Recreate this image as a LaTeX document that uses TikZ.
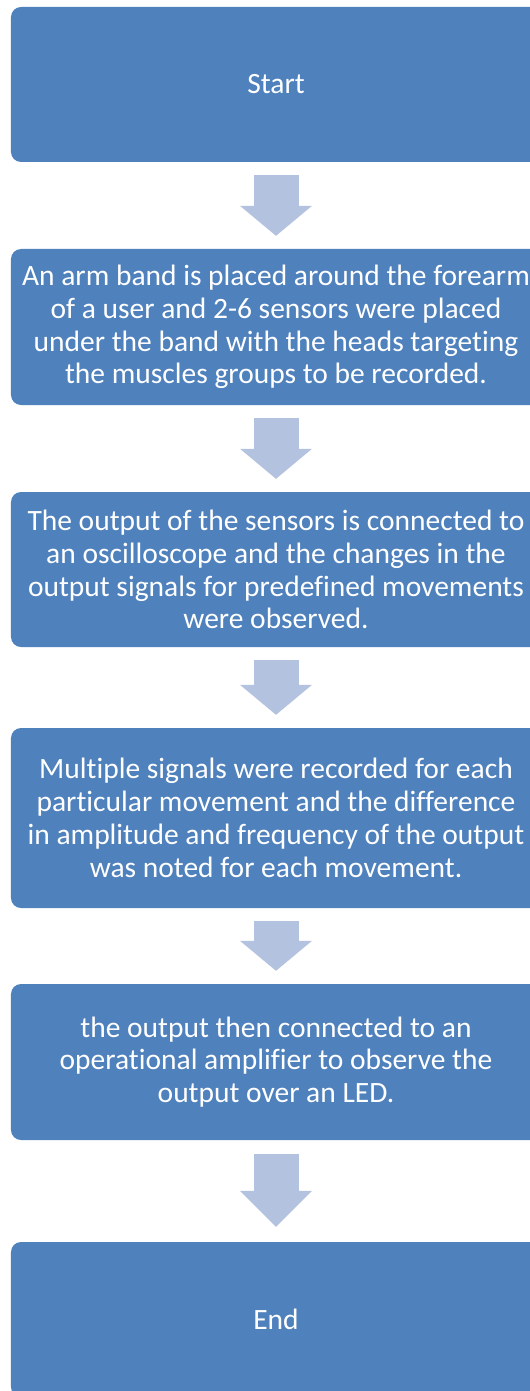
\documentclass[tikz,border=0pt]{standalone}
\usepackage{fontspec}
\setmainfont{Carlito}[Ligatures=NoCommon]
\usetikzlibrary{arrows.meta}
\definecolor{boxblue}{HTML}{4F81BD}
\definecolor{arrowblue}{HTML}{B3C2DE}

\begin{document}
\begin{tikzpicture}[x=1bp, y=-1bp,
  stepbox/.style={rectangle, rounded corners=10bp, fill=boxblue, text=white,
    minimum width=530bp, minimum height=155bp, align=center, inner sep=4bp,
    font=\fontsize{29.5bp}{32.8bp}\selectfont},
  flowarrow/.style={draw=arrowblue, line width=45bp, shorten <=13bp, shorten >=13bp,
    -{Triangle[length=30bp, width=72bp, line width=0pt]}}]
  \useasboundingbox (0,0) rectangle (530,1391);

  % Drawing the steps
  \node [stepbox] (start) at (276,84.5) {Start};
  \node [stepbox, minimum height=156bp] (place) at (276,327) {An arm band is placed around the forearm\\of a user and 2-6 sensors were placed\\under the band with the heads targeting\\the muscles groups to be recorded.};
  \node [stepbox] (observe) at (276,569.5) {The output of the sensors is connected to\\an oscilloscope and the changes in the\\output signals for predefined movements\\were observed.};
  \node [stepbox, minimum height=180bp] (record) at (276,818) {Multiple signals were recorded for each\\particular movement and the difference\\in amplitude and frequency of the output\\was noted for each movement.};
  \node [stepbox, minimum height=156bp] (amplify) at (276,1062) {the output then connected to an\\operational amplifier to observe the\\output over an LED.};
  \node [stepbox] (stop) at (276,1319.5) {End};

  % Drawing the block arrows
  \draw [flowarrow] (start) -- (place);
  \draw [flowarrow] (place) -- (observe);
  \draw [flowarrow] (observe) -- (record);
  \draw [flowarrow] (record) -- (amplify);
  \draw [flowarrow, shorten <=14bp, shorten >=15bp, -{Triangle[length=36bp, width=72bp, line width=0pt]}] (amplify) -- (stop);
\end{tikzpicture}
\end{document}
